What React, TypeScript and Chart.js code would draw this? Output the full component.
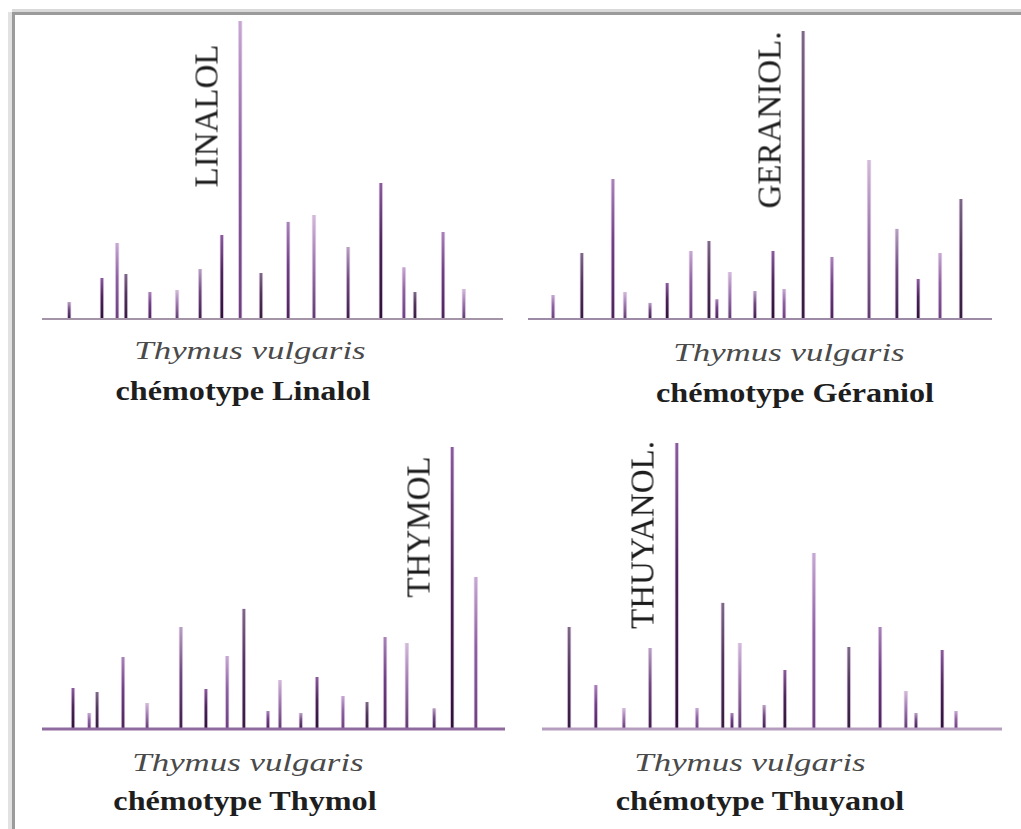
import React, { useEffect, useRef } from "react";
import { Chart, registerables } from "chart.js";

Chart.register(...registerables);

// ---- Data (retention position 0-100 along the trace, relative intensity 0-100) ----
const linalolTimes = [5.9, 13.0, 16.3, 18.2, 23.4, 29.3, 34.3, 39.0, 43.0, 47.5, 53.4, 59.0, 66.4, 73.5, 78.5, 80.9, 87.0, 91.5];
const linalolHeights = [5.7, 13.8, 25.5, 15.1, 9.1, 9.7, 16.8, 28.2, 100, 15.4, 32.6, 34.9, 24.2, 45.6, 17.4, 9.1, 29.2, 10.1];

const geraniolTimes = [5.4, 11.6, 18.3, 20.9, 26.3, 30.0, 35.1, 39.0, 40.7, 43.5, 48.9, 52.8, 55.2, 59.3, 65.5, 73.5, 79.5, 84.1, 88.8, 93.3];
const geraniolHeights = [8.3, 22.9, 48.6, 9.4, 5.6, 12.5, 23.6, 27.1, 6.9, 16.3, 9.7, 23.6, 10.4, 100, 21.5, 55.2, 31.3, 13.9, 22.9, 41.7];

const thymolTimes = [6.7, 10.2, 11.9, 17.5, 22.7, 30.0, 35.4, 40.0, 43.6, 48.8, 51.4, 55.9, 59.4, 65.0, 70.2, 74.1, 78.8, 84.7, 88.6, 93.7];
const thymolHeights = [14.5, 5.7, 13.1, 25.5, 9.2, 36.2, 14.2, 25.9, 42.6, 6.4, 17.4, 5.7, 18.4, 11.7, 9.6, 32.6, 30.5, 7.4, 100, 53.9];

const thuyanolTimes = [5.9, 11.7, 17.8, 23.5, 29.3, 33.7, 39.3, 41.3, 43.0, 48.3, 52.8, 59.1, 66.7, 73.5, 79.1, 81.3, 87.0, 90.0];
const thuyanolHeights = [35.7, 15.4, 7.3, 28.3, 100, 7.3, 44.1, 5.6, 30.1, 8.4, 20.6, 61.5, 28.7, 35.7, 13.3, 5.6, 27.6, 6.3];

const peakLabels = ["LINALOL", "GERANIOL.", "THYMOL", "THUYANOL."];
const speciesLabel = "Thymus vulgaris";
const chemotypeLabels = ["chémotype Linalol", "chémotype Géraniol", "chémotype Thymol", "chémotype Thuyanol"];

// ---- Styling ----
const PALETTE: [string, string, string][] = [
  ["#b7a2c0", "#6e4a7e", "#3c1f48"],
  ["#8a5c9c", "#4a2556", "#2c1234"],
  ["#c6a9d2", "#8d62a0", "#6a3f7c"],
  ["#7d6a85", "#4f3559", "#341c3d"],
  ["#a884b8", "#6f3f84", "#4a2458"],
  ["#d2bcd9", "#9e7aae", "#5d3a6c"],
];

const SERIF = "'Liberation Serif', 'DejaVu Serif', 'Times New Roman', serif";

type Box = { left: number; top: number; width: number; height: number };

const baselinePlugin = {
  id: "baseline",
  afterDatasetsDraw(chart: any, _args: any, opts: any) {
    const { ctx, chartArea } = chart;
    const y = chart.scales.y.getPixelForValue(0);
    ctx.save();
    ctx.strokeStyle = opts.color;
    ctx.lineWidth = opts.width;
    ctx.beginPath();
    ctx.moveTo(chartArea.left, y);
    ctx.lineTo(chartArea.right, y);
    ctx.stroke();
    ctx.restore();
  },
};

function Trace({
  box,
  times,
  heights,
  shift,
  lineColor,
  lineWidth,
}: {
  box: Box;
  times: number[];
  heights: number[];
  shift: number;
  lineColor: string;
  lineWidth: number;
}) {
  const ref = useRef<HTMLCanvasElement | null>(null);
  useEffect(() => {
    if (!ref.current) return;
    const chart = new Chart(ref.current, {
      type: "bar",
      data: {
        datasets: [
          {
            data: times.map((t, i) => ({ x: t, y: heights[i] })),
            barThickness: 4,
            borderWidth: { left: 1, right: 1, top: 0, bottom: 0 },
            borderSkipped: false,
            borderColor: "rgba(222, 196, 232, 0.75)",
            backgroundColor: (c: any) => {
              const pal = PALETTE[(c.dataIndex + shift) % PALETTE.length];
              const chartObj = c.chart;
              if (!chartObj.chartArea || !c.parsed || !chartObj.scales.y) return pal[1];
              const ys = chartObj.scales.y;
              const top = ys.getPixelForValue(c.parsed.y);
              const bottom = ys.getPixelForValue(0);
              const g = chartObj.ctx.createLinearGradient(0, top, 0, bottom);
              g.addColorStop(0, pal[0]);
              g.addColorStop(0.45, pal[1]);
              g.addColorStop(1, pal[2]);
              return g;
            },
          } as any,
        ],
      },
      options: {
        animation: false,
        responsive: false,
        maintainAspectRatio: false,
        layout: { padding: { top: 4, bottom: 4, left: 0, right: 0 } },
        scales: {
          x: { type: "linear", min: 0, max: 100, display: false, offset: false } as any,
          y: { type: "linear", min: 0, max: 100, display: false },
        },
        plugins: {
          legend: { display: false },
          tooltip: { enabled: false },
          baseline: { color: lineColor, width: lineWidth },
        } as any,
      },
      plugins: [baselinePlugin as any],
    });
    return () => chart.destroy();
  }, []);
  return (
    <canvas
      ref={ref}
      width={box.width}
      height={box.height}
      style={{ position: "absolute", left: box.left, top: box.top, width: box.width, height: box.height }}
    />
  );
}

function RotatedLabel({ text, cx, cy }: { text: string; cx: number; cy: number }) {
  return (
    <div
      style={{
        position: "absolute",
        left: cx,
        top: cy,
        transform: "translate(-50%, -50%) rotate(-90deg)",
        fontFamily: SERIF,
        fontSize: 33,
        lineHeight: "33px",
        color: "#1c1c1c",
        whiteSpace: "nowrap",
      }}
    >
      {text}
    </div>
  );
}

function Caption({
  text,
  cx,
  top,
  italic,
}: {
  text: string;
  cx: number;
  top: number;
  italic: boolean;
}) {
  return (
    <div
      style={{
        position: "absolute",
        left: cx,
        top,
        transform: italic ? "translateX(-50%) scaleX(1.34)" : "translateX(-50%) scaleX(1.15)",
        fontFamily: SERIF,
        fontStyle: italic ? "italic" : "normal",
        fontWeight: italic ? 400 : 700,
        fontSize: italic ? 26 : 28,
        lineHeight: italic ? "26px" : "28px",
        color: italic ? "#4a4a4a" : "#1e1e1e",
        whiteSpace: "nowrap",
      }}
    >
      {text}
    </div>
  );
}

export default function App() {
  return (
    <div
      style={{
        position: "absolute",
        left: 0,
        top: 0,
        width: 1021,
        height: 829,
        background: "#ffffff",
        overflow: "hidden",
      }}
    >
      {/* frame */}
      <div style={{ position: "absolute", left: 12, top: 9, width: 1009, height: 3, background: "#d9d9d9" }} />
      <div style={{ position: "absolute", left: 12, top: 12, width: 1009, height: 3, background: "#9b9b9b" }} />
      <div style={{ position: "absolute", left: 8, top: 12, width: 4, height: 817, background: "#e2e2e2" }} />
      <div style={{ position: "absolute", left: 12, top: 12, width: 3, height: 817, background: "#9b9b9b" }} />

      <Trace box={{ left: 42, top: 17, width: 461, height: 306 }} times={linalolTimes} heights={linalolHeights} shift={0} lineColor="#a394a8" lineWidth={2} />
      <Trace box={{ left: 528, top: 27, width: 464, height: 296 }} times={geraniolTimes} heights={geraniolHeights} shift={2} lineColor="#9d8aa6" lineWidth={2} />
      <Trace box={{ left: 42, top: 443, width: 463, height: 290 }} times={thymolTimes} heights={thymolHeights} shift={1} lineColor="#8f6a9f" lineWidth={3} />
      <Trace box={{ left: 542, top: 439, width: 460, height: 294 }} times={thuyanolTimes} heights={thuyanolHeights} shift={3} lineColor="#b59dbf" lineWidth={3} />

      <RotatedLabel text={peakLabels[0]} cx={207} cy={116} />
      <RotatedLabel text={peakLabels[1]} cx={770} cy={120} />
      <RotatedLabel text={peakLabels[2]} cx={419} cy={527} />
      <RotatedLabel text={peakLabels[3]} cx={643} cy={535} />

      <Caption text={speciesLabel} cx={250} top={338} italic />
      <Caption text={chemotypeLabels[0]} cx={243} top={377} italic={false} />
      <Caption text={speciesLabel} cx={789} top={340} italic />
      <Caption text={chemotypeLabels[1]} cx={795} top={379} italic={false} />
      <Caption text={speciesLabel} cx={248} top={750} italic />
      <Caption text={chemotypeLabels[2]} cx={245} top={787} italic={false} />
      <Caption text={speciesLabel} cx={750} top={750} italic />
      <Caption text={chemotypeLabels[3]} cx={760} top={787} italic={false} />
    </div>
  );
}
